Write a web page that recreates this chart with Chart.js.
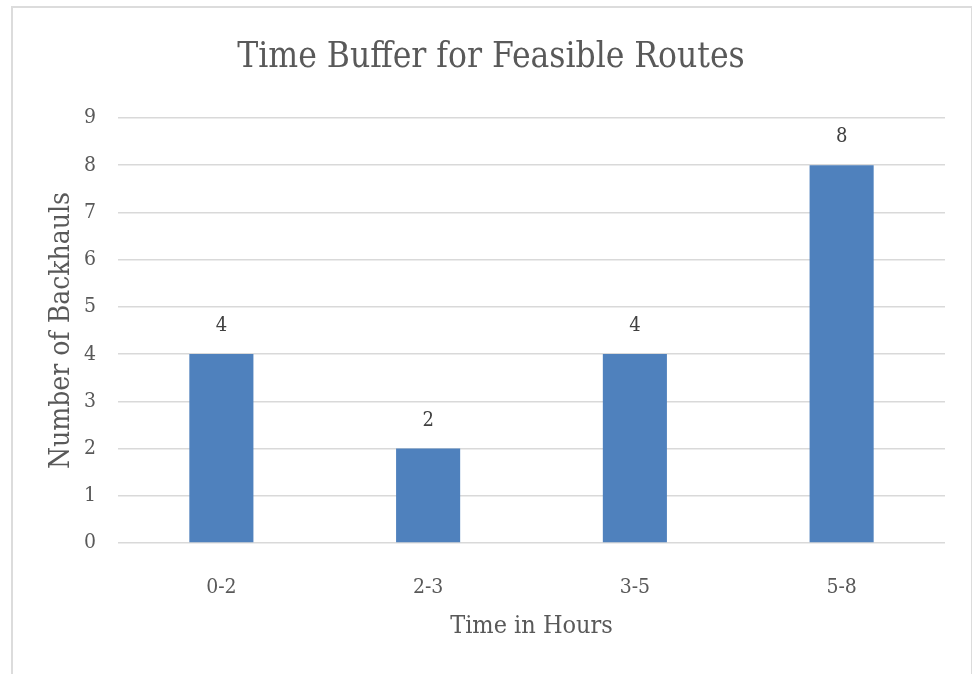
<!DOCTYPE html>
<html>
<head>
<meta charset="utf-8">
<script src="https://cdn.jsdelivr.net/npm/chart.js@4.4.1/dist/chart.umd.min.js"></script>
<style>
  html, body { margin: 0; padding: 0; background: #ffffff; }
  #frame {
    position: absolute; left: 11px; top: 6px; width: 958px; height: 700px;
    border: 2px solid #dcdcdc; border-bottom: none;
  }
  #wrap { position: absolute; left: 0; top: 0; width: 972px; height: 674px; }
</style>
</head>
<body>
<div id="frame"></div>
<div id="wrap"><canvas id="chart" width="972" height="674"></canvas></div>
<script>
// Backhaul counts by time-buffer band
const categories = ['0-2', '2-3', '3-5', '5-8'];
const backhauls = [4, 2, 4, 8];
const yTicks = [0, 1, 2, 3, 4, 5, 6, 7, 8, 9];

const FONT = "'DejaVu Serif Condensed', 'DejaVu Serif', serif";
const TEXT = '#595959';

// Writes each bar's value just above it
const valueLabels = {
  id: 'valueLabels',
  afterDatasetsDraw(chart) {
    const ctx = chart.ctx;
    const meta = chart.getDatasetMeta(0);
    ctx.save();
    ctx.font = '20px ' + FONT;
    ctx.fillStyle = '#404040';
    ctx.textAlign = 'center';
    ctx.textBaseline = 'middle';
    meta.data.forEach((bar, i) => {
      ctx.fillText(String(backhauls[i]), bar.x, bar.y - 28);
    });
    ctx.restore();
  }
};

new Chart(document.getElementById('chart'), {
  type: 'bar',
  data: {
    labels: categories,
    datasets: [{
      data: backhauls,
      backgroundColor: '#4f81bd',
      borderWidth: 0,
      categoryPercentage: 1,
      barPercentage: 0.31
    }]
  },
  options: {
    responsive: false,
    animation: false,
    layout: { padding: { left: 37, right: 27, top: 0, bottom: 33 } },
    plugins: {
      legend: { display: false },
      tooltip: { enabled: false },
      title: {
        display: true,
        text: 'Time Buffer for Feasible Routes',
        color: TEXT,
        font: { family: FONT, size: 35, weight: 'normal', lineHeight: 1.2 },
        padding: { top: 37, bottom: 39 }
      }
    },
    scales: {
      x: {
        grid: { display: false },
        border: { display: false },
        ticks: { color: TEXT, font: { family: FONT, size: 21 }, padding: 24 },
        title: {
          display: true,
          text: 'Time in Hours',
          color: TEXT,
          font: { family: FONT, size: 25 },
          padding: { top: 10, bottom: 0 }
        },
        afterFit(scale) { scale.height = 98; }
      },
      y: {
        min: 0,
        max: 9,
        afterBuildTicks(scale) { scale.ticks = yTicks.map(v => ({ value: v })); },
        grid: { color: '#d9d9d9', lineWidth: 1.5, drawTicks: false },
        border: { display: false },
        ticks: { color: TEXT, font: { family: FONT, size: 21 }, padding: 22 },
        title: {
          display: true,
          text: 'Number of Backhauls',
          color: TEXT,
          font: { family: FONT, size: 28 },
          padding: { top: 8, bottom: 0 }
        },
        afterFit(scale) { scale.width = 81; }
      }
    }
  },
  plugins: [valueLabels]
});
</script>
</body>
</html>
